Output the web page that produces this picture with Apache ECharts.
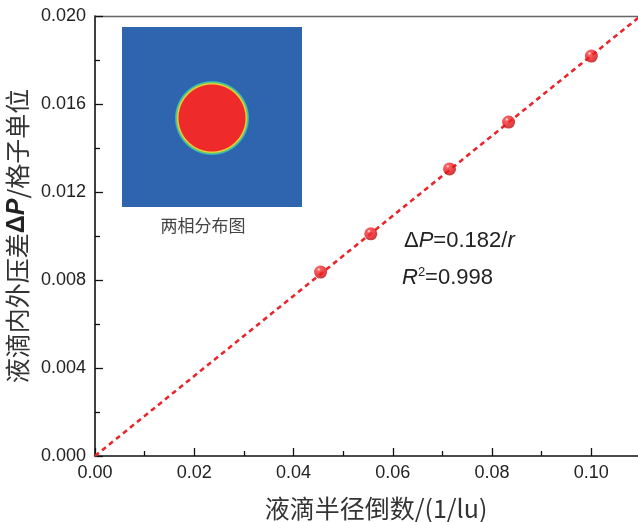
<!DOCTYPE html>
<html>
<head>
<meta charset="utf-8">
<script src="https://cdn.jsdelivr.net/npm/echarts@6/dist/echarts.min.js"></script>
<style>
  html, body { margin: 0; padding: 0; background: #fff; }
  #chart { width: 638px; height: 522px; }
</style>
</head>
<body>
<div id="chart"></div>
<script>
// Inverse droplet radius (1/lu) and measured pressure jump across the interface
const inverseRadius = [0.04545, 0.05556, 0.07143, 0.08333, 0.1];
const pressureDiff = [0.00836, 0.0101, 0.01305, 0.01518, 0.01818];

// Linear fit through the origin: ΔP = slope / r
const slope = 0.182;
const rSquared = 0.998;

const xTicks = [0, 0.11, 0.02];   // min, max, interval
const yTicks = [0, 0.020, 0.004];

const FONT = '"Liberation Sans", "Noto Sans CJK SC", sans-serif';
const CJK = '"Noto Sans CJK SC", "Liberation Sans", sans-serif';

const points = inverseRadius.map((x, i) => [x, pressureDiff[i]]);
const fitLine = [[xTicks[0], slope * xTicks[0]], [xTicks[1], slope * xTicks[1]]];

const chart = echarts.init(document.getElementById('chart'), null, { renderer: 'canvas' });

// glossy red sphere for each measurement
const sphere = new echarts.graphic.RadialGradient(0.36, 0.3, 0.75, [
  { offset: 0, color: '#ffe4e4' },
  { offset: 0.18, color: '#f53a3a' },
  { offset: 0.6, color: '#e8161c' },
  { offset: 1, color: '#b00c10' }
]);

// droplet in the phase-field inset, with a thin diffuse interface
const dropFill = new echarts.graphic.RadialGradient(0.5, 0.5, 0.5, [
  { offset: 0, color: '#ee2a2a' },
  { offset: 0.88, color: '#ee2a2a' },
  { offset: 0.91, color: '#f5d93a' },
  { offset: 0.94, color: '#7ec84a' },
  { offset: 0.97, color: '#2fb9c9' },
  { offset: 1, color: '#2f64ae' }
]);

chart.setOption({
  animation: false,
  backgroundColor: '#fff',
  grid: { left: 95, top: 16, width: 546, height: 440, containLabel: false, outerBoundsMode: 'none' },
  xAxis: [{
    type: 'value',
    position: 'bottom',
    min: xTicks[0], max: xTicks[1], interval: xTicks[2],
    name: '液滴半径倒数/(1/lu)',
    nameLocation: 'middle',
    nameGap: 40,
    nameTextStyle: { fontFamily: CJK, fontSize: 25, color: '#333', padding: [0, 0, 0, 16] },
    axisLine: { show: true, onZero: false, lineStyle: { color: '#111', width: 1.6 } },
    axisTick: { show: true, inside: true, length: 8, lineStyle: { color: '#111', width: 1.3 } },
    minorTick: { show: true, splitNumber: 2, length: 5, lineStyle: { color: '#111', width: 1.3 } },
    axisLabel: {
      fontFamily: FONT, fontSize: 18, color: '#222', margin: 8,
      formatter: v => v.toFixed(2),
      showMaxLabel: false
    },
    splitLine: { show: false }
  }, {
    type: 'value',
    position: 'top',
    min: xTicks[0], max: xTicks[1],
    axisLine: { show: true, onZero: false, lineStyle: { color: '#666', width: 1.4 } },
    axisTick: { show: false },
    axisLabel: { show: false },
    splitLine: { show: false }
  }],
  yAxis: {
    type: 'value',
    min: yTicks[0], max: yTicks[1], interval: yTicks[2],
    name: '{c|液滴内外压差}{d|Δ}{p|P}{c|/格子单位}',
    nameLocation: 'middle',
    nameRotate: 90,
    nameGap: 62,
    nameTextStyle: {
      color: '#333',
      rich: {
        c: { fontFamily: CJK, fontSize: 25, color: '#333' },
        d: { fontFamily: FONT, fontSize: 25, fontWeight: 'bold', color: '#222' },
        p: { fontFamily: FONT, fontSize: 25, fontWeight: 'bold', fontStyle: 'italic', color: '#222' }
      }
    },
    axisLine: { show: true, onZero: false, lineStyle: { color: '#111', width: 1.6 } },
    axisTick: { show: true, inside: true, length: 8, lineStyle: { color: '#111', width: 1.3 } },
    minorTick: { show: true, splitNumber: 2, length: 5, lineStyle: { color: '#111', width: 1.3 } },
    axisLabel: {
      fontFamily: FONT, fontSize: 18, color: '#222', margin: 9,
      formatter: v => v.toFixed(3)
    },
    splitLine: { show: false }
  },
  series: [{
    name: 'fit',
    type: 'line',
    data: fitLine,
    showSymbol: false,
    symbol: 'none',
    clip: true,
    lineStyle: { color: '#e8262c', width: 2.6, type: [5, 4] },
    z: 2
  }, {
    name: 'data',
    type: 'scatter',
    data: points,
    symbol: 'circle',
    symbolSize: 13,
    itemStyle: { color: sphere },
    z: 3
  }],
  graphic: [
    // two-phase distribution inset
    { type: 'rect', left: 122, top: 27, shape: { width: 180, height: 180 },
      style: { fill: '#2f64ae' }, z: 10 },
    { type: 'circle', shape: { cx: 212, cy: 118, r: 37.5 },
      style: { fill: dropFill }, z: 11 },
    { type: 'text', position: [203, 226],
      style: { text: '两相分布图', font: '17px ' + CJK, fill: '#444',
               textAlign: 'center', textVerticalAlign: 'middle' }, z: 12 },
    // fit equation
    { type: 'text', position: [404, 230],
      style: {
        text: '{n|Δ}{i|P}{n|=0.182/}{i|r}',
        rich: {
          n: { fontFamily: FONT, fontSize: 22, fill: '#222' },
          i: { fontFamily: FONT, fontSize: 22, fontStyle: 'italic', fill: '#222' }
        }
      }, z: 12 },
    { type: 'text', position: [402, 266],
      style: {
        text: '{i|R}{s|2}{n|=' + rSquared.toFixed(3) + '}',
        rich: {
          n: { fontFamily: FONT, fontSize: 22, fill: '#222' },
          i: { fontFamily: FONT, fontSize: 22, fontStyle: 'italic', fill: '#222' },
          s: { fontFamily: FONT, fontSize: 13, fill: '#222', padding: [0, 0, 10, 0] }
        }
      }, z: 12 }
  ]
});
</script>
</body>
</html>
